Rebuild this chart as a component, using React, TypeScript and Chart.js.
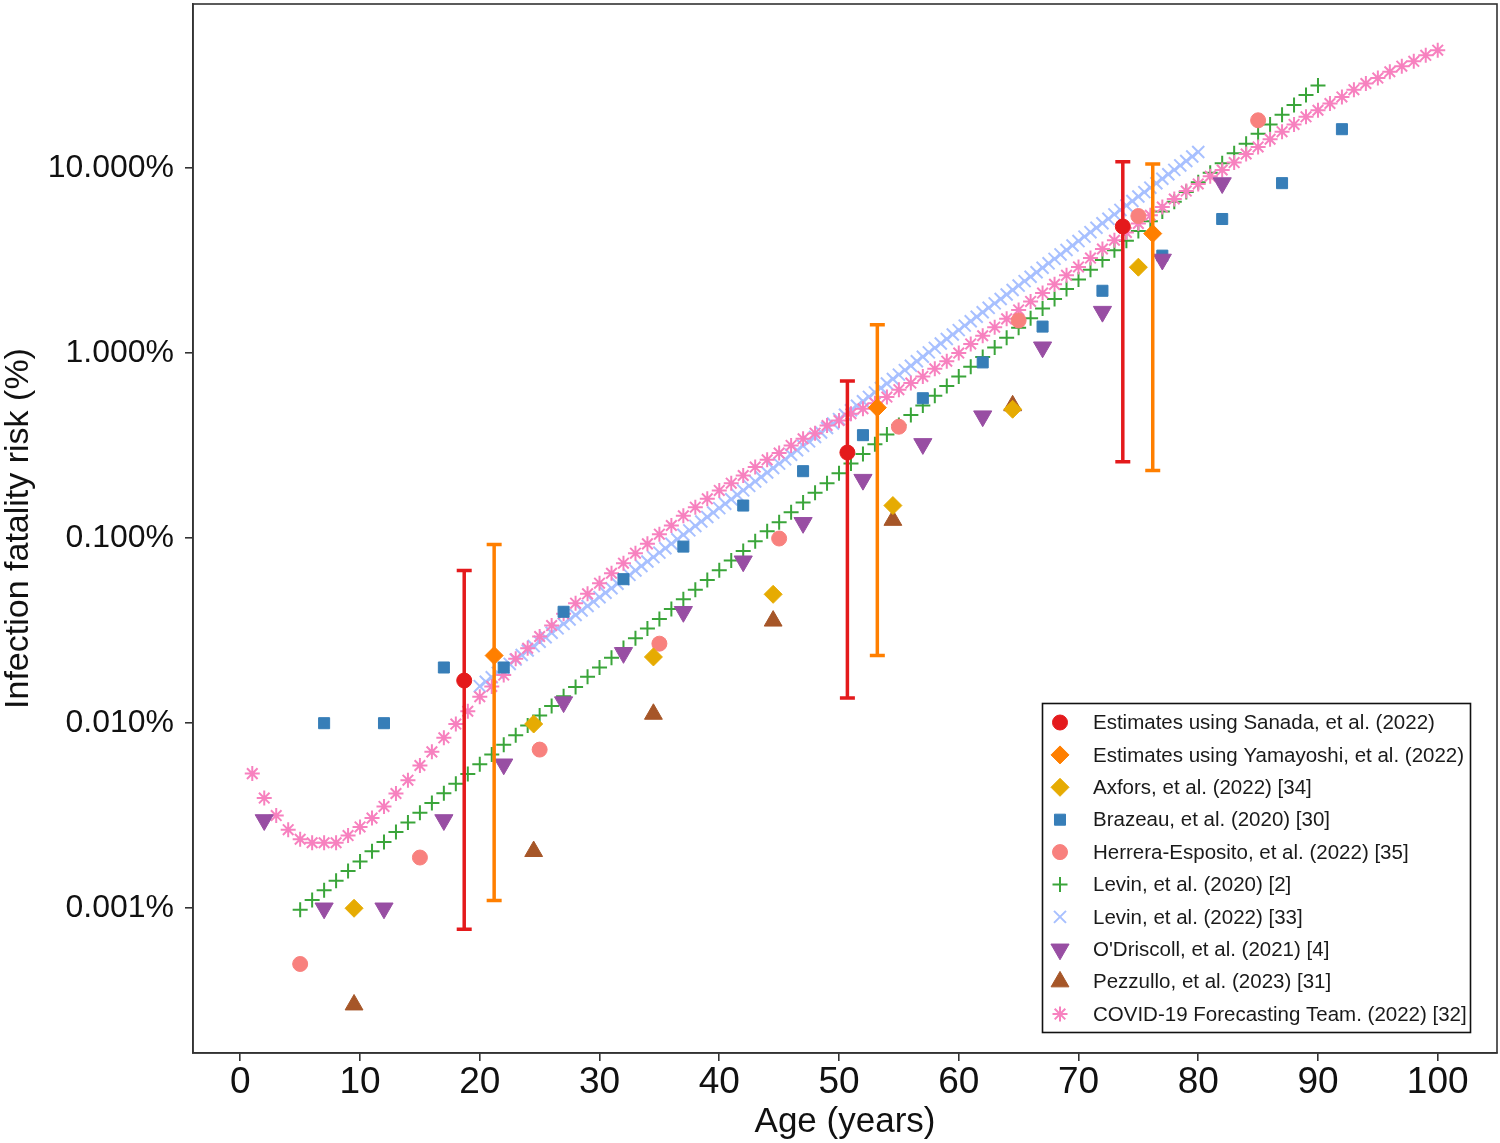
import React, { useEffect, useRef } from 'react';
import { Chart, registerables } from 'chart.js';
import { drawPoint } from 'chart.js/helpers';

Chart.register(...registerables);

// ---------------- data ----------------
const sanadaAges = [18.7, 50.7, 73.7];
const sanadaIFR = [0.017, 0.29, 4.83];
const sanadaLow = [0.00077, 0.0137, 0.259];
const sanadaHigh = [0.0668, 0.706, 10.8];

const yamayoshiAges = [21.2, 53.2, 76.2];
const yamayoshiIFR = [0.0232, 0.507, 4.42];
const yamayoshiLow = [0.0011, 0.0232, 0.232];
const yamayoshiHigh = [0.0925, 1.42, 10.5];

const axforsAges = [9.5, 24.5, 34.5, 44.5, 54.5, 64.5, 75];
const axforsIFR = [0.001, 0.0099, 0.0228, 0.0497, 0.15, 0.497, 2.91];

const brazeauAges = [7, 12, 17, 22, 27, 32, 37, 42, 47, 52, 57, 62, 67, 72, 77, 82, 87, 92];
const brazeauIFR = [0.01, 0.01, 0.02, 0.02, 0.04, 0.06, 0.09, 0.15, 0.23, 0.36, 0.57, 0.89, 1.39, 2.17, 3.36, 5.3, 8.28, 16.2];

const herreraAges = [5, 15, 25, 35, 45, 55, 65, 75, 85];
const herreraIFR = [0.0005, 0.00188, 0.0072, 0.0269, 0.0995, 0.4, 1.5, 5.5, 18.1];

const levin2020Ages = [5, 6, 7, 8, 9, 10, 11, 12, 13, 14, 15, 16, 17, 18, 19, 20, 21, 22, 23, 24, 25, 26, 27, 28, 29, 30, 31, 32, 33, 34, 35, 36, 37, 38, 39, 40, 41, 42, 43, 44, 45, 46, 47, 48, 49, 50, 51, 52, 53, 54, 55, 56, 57, 58, 59, 60, 61, 62, 63, 64, 65, 66, 67, 68, 69, 70, 71, 72, 73, 74, 75, 76, 77, 78, 79, 80, 81, 82, 83, 84, 85, 86, 87, 88, 89, 90];
const levin2020IFR = [0.000982, 0.00111, 0.00125, 0.00141, 0.00159, 0.00179, 0.00203, 0.00228, 0.00258, 0.00291, 0.00328, 0.0037, 0.00418, 0.00471, 0.00532, 0.006, 0.00677, 0.00764, 0.00862, 0.00972, 0.011, 0.0124, 0.014, 0.0157, 0.0178, 0.02, 0.0226, 0.0255, 0.0288, 0.0325, 0.0366, 0.0414, 0.0467, 0.0526, 0.0594, 0.067, 0.0756, 0.0853, 0.0962, 0.109, 0.122, 0.138, 0.156, 0.176, 0.198, 0.224, 0.253, 0.285, 0.322, 0.363, 0.409, 0.462, 0.521, 0.588, 0.663, 0.748, 0.844, 0.952, 1.07, 1.21, 1.37, 1.54, 1.74, 1.96, 2.22, 2.5, 2.82, 3.18, 3.59, 4.05, 4.57, 5.16, 5.82, 6.56, 7.41, 8.36, 9.43, 10.6, 12.0, 13.5, 15.3, 17.2, 19.4, 21.9, 24.8, 27.9];

const levin2022Ages = [20, 20.5, 21, 21.5, 22, 22.5, 23, 23.5, 24, 24.5, 25, 25.5, 26, 26.5, 27, 27.5, 28, 28.5, 29, 29.5, 30, 30.5, 31, 31.5, 32, 32.5, 33, 33.5, 34, 34.5, 35, 35.5, 36, 36.5, 37, 37.5, 38, 38.5, 39, 39.5, 40, 40.5, 41, 41.5, 42, 42.5, 43, 43.5, 44, 44.5, 45, 45.5, 46, 46.5, 47, 47.5, 48, 48.5, 49, 49.5, 50, 50.5, 51, 51.5, 52, 52.5, 53, 53.5, 54, 54.5, 55, 55.5, 56, 56.5, 57, 57.5, 58, 58.5, 59, 59.5, 60, 60.5, 61, 61.5, 62, 62.5, 63, 63.5, 64, 64.5, 65, 65.5, 66, 66.5, 67, 67.5, 68, 68.5, 69, 69.5, 70, 70.5, 71, 71.5, 72, 72.5, 73, 73.5, 74, 74.5, 75, 75.5, 76, 76.5, 77, 77.5, 78, 78.5, 79, 79.5, 80];
const levin2022IFR = [0.01585, 0.01675, 0.0177, 0.01871, 0.01978, 0.02091, 0.0221, 0.02336, 0.02469, 0.0261,
  0.02757, 0.02914, 0.0308, 0.03255, 0.03441, 0.03637, 0.03845, 0.04064, 0.04294, 0.04539,
  0.04797, 0.0507, 0.05359, 0.05664, 0.05987, 0.06328, 0.06688, 0.07069, 0.07471, 0.07897,
  0.08348, 0.08823, 0.09325, 0.09856, 0.1042, 0.1101, 0.1164, 0.123, 0.13, 0.1374,
  0.1452, 0.1535, 0.1622, 0.1714, 0.1812, 0.1915, 0.2025, 0.214, 0.2262, 0.2391,
  0.2527, 0.2671, 0.2822, 0.2983, 0.3153, 0.3333, 0.3522, 0.3723, 0.3935, 0.4159,
  0.4395, 0.4645, 0.4911, 0.5191, 0.5486, 0.5798, 0.6128, 0.6477, 0.6845, 0.7235,
  0.7648, 0.8084, 0.8545, 0.9032, 0.9544, 1.0088, 1.0661, 1.1268, 1.191, 1.2588,
  1.3305, 1.4063, 1.4864, 1.5711, 1.6604, 1.755, 1.8549, 1.9606, 2.0723, 2.1903,
  2.3148, 2.4466, 2.586, 2.7333, 2.8889, 3.0534, 3.2278, 3.4116, 3.6059, 3.8112,
  4.0272, 4.2565, 4.499, 4.7552, 5.0259, 5.3121, 5.6141, 5.9338, 6.272, 6.6292,
  7.0065, 7.4055, 7.827, 8.2727, 8.7436, 9.2415, 9.7678, 10.324, 10.911, 11.532,
  12.19];

const odriscollAges = [2, 7, 12, 17, 22, 27, 32, 37, 42, 47, 52, 57, 62, 67, 72, 77, 82];
const odriscollIFR = [0.003, 0.001, 0.001, 0.003, 0.006, 0.013, 0.024, 0.04, 0.075, 0.121, 0.207, 0.323, 0.456, 1.075, 1.674, 3.203, 8.292];

const pezzulloAges = [9.5, 24.5, 34.5, 44.5, 54.5, 64.5];
const pezzulloIFR = [0.000301, 0.00203, 0.0112, 0.0357, 0.125, 0.52];

const covidAges = [1, 2, 3, 4, 5, 6, 7, 8, 9, 10, 11, 12, 13, 14, 15, 16, 17, 18, 19, 20, 21, 22, 23, 24, 25, 26, 27, 28, 29, 30, 31, 32, 33, 34, 35, 36, 37, 38, 39, 40, 41, 42, 43, 44, 45, 46, 47, 48, 49, 50, 51, 52, 53, 54, 55, 56, 57, 58, 59, 60, 61, 62, 63, 64, 65, 66, 67, 68, 69, 70, 71, 72, 73, 74, 75, 76, 77, 78, 79, 80, 81, 82, 83, 84, 85, 86, 87, 88, 89, 90, 91, 92, 93, 94, 95, 96, 97, 98, 99, 100];
const covidIFR = [0.00534, 0.00394, 0.00317, 0.00266, 0.00236, 0.00226, 0.00226, 0.00226, 0.00247, 0.00275,
  0.00307, 0.00355, 0.00417, 0.00492, 0.00591, 0.007, 0.00834, 0.00989, 0.0116, 0.0139,
  0.0158, 0.0182, 0.0223, 0.0254, 0.0294, 0.0337, 0.039, 0.0445, 0.05, 0.0571,
  0.0646, 0.0732, 0.0829, 0.0931, 0.105, 0.117, 0.132, 0.147, 0.163, 0.181,
  0.198, 0.218, 0.242, 0.265, 0.288, 0.317, 0.344, 0.369, 0.406, 0.432,
  0.47, 0.5, 0.536, 0.578, 0.634, 0.688, 0.748, 0.822, 0.904, 1.0,
  1.12, 1.24, 1.38, 1.53, 1.71, 1.9, 2.11, 2.35, 2.63, 2.92,
  3.26, 3.65, 4.07, 4.48, 5.01, 5.55, 6.15, 6.8, 7.5, 8.2,
  9.02, 9.75, 10.7, 11.9, 13.0, 14.3, 15.7, 17.2, 18.9, 20.5,
  22.3, 24.2, 26.5, 28.6, 30.6, 33.1, 35.5, 37.7, 40.6, 43.3];

const xTickValues = [0, 10, 20, 30, 40, 50, 60, 70, 80, 90, 100];
const yTickValues = [0.001, 0.01, 0.1, 1, 10];
const yTickLabels = ['0.001%', '0.010%', '0.100%', '1.000%', '10.000%'];

const seriesNames = [
  'Estimates using Sanada, et al. (2022)',
  'Estimates using Yamayoshi, et al. (2022)',
  'Axfors, et al. (2022) [34]',
  'Brazeau, et al. (2020) [30]',
  'Herrera-Esposito, et al. (2022) [35]',
  'Levin, et al. (2020) [2]',
  'Levin, et al. (2022) [33]',
  "O'Driscoll, et al. (2021) [4]",
  'Pezzullo, et al. (2023) [31]',
  'COVID-19 Forecasting Team. (2022) [32]',
];

// ---------------- styles ----------------
const FONT = '"Liberation Sans", Arial, Helvetica, sans-serif';
const RED = '#E41A1C';
const ORANGE = '#FF7F00';
const GOLD = '#E6AB02';
const BLUE = '#377EB8';
const SALMON = '#F8817E';
const GREEN = '#3AA53A';
const LIGHTBLUE = '#A8C0FF';
const PURPLE = '#984EA3';
const BROWN = '#A65628';
const PINK = '#F781BF';

type Sty = { color: string; pointStyle: string; radius: number; rotation: number; borderWidth: number; order: number };
const styles: Sty[] = [
  { color: RED, pointStyle: 'circle', radius: 7.5, rotation: 0, borderWidth: 1, order: 0 },
  { color: ORANGE, pointStyle: 'rectRot', radius: 9, rotation: 0, borderWidth: 1, order: 1 },
  { color: GOLD, pointStyle: 'rectRot', radius: 9, rotation: 0, borderWidth: 1, order: 2 },
  { color: BLUE, pointStyle: 'rect', radius: 7.8, rotation: 0, borderWidth: 1, order: 5 },
  { color: SALMON, pointStyle: 'circle', radius: 7.5, rotation: 0, borderWidth: 1, order: 4 },
  { color: GREEN, pointStyle: 'cross', radius: 7.5, rotation: 0, borderWidth: 2, order: 8 },
  { color: LIGHTBLUE, pointStyle: 'crossRot', radius: 8.5, rotation: 0, borderWidth: 2, order: 9 },
  { color: PURPLE, pointStyle: 'triangle', radius: 10.5, rotation: 180, borderWidth: 1, order: 3 },
  { color: BROWN, pointStyle: 'triangle', radius: 10.3, rotation: 0, borderWidth: 1, order: 6 },
  { color: PINK, pointStyle: 'star', radius: 7.5, rotation: 0, borderWidth: 2, order: 7 },
];

const seriesX = [sanadaAges, yamayoshiAges, axforsAges, brazeauAges, herreraAges, levin2020Ages, levin2022Ages, odriscollAges, pezzulloAges, covidAges];
const seriesY = [sanadaIFR, yamayoshiIFR, axforsIFR, brazeauIFR, herreraIFR, levin2020IFR, levin2022IFR, odriscollIFR, pezzulloIFR, covidIFR];

const errorBarPlugin = {
  id: 'errorBars',
  beforeDatasetDraw(chart: any, args: any) {
    if (args.index !== 1) return;
    const { ctx } = chart;
    const xs = chart.scales.x;
    const ys = chart.scales.y;
    const groups = [
      { ages: sanadaAges, lo: sanadaLow, hi: sanadaHigh, color: RED },
      { ages: yamayoshiAges, lo: yamayoshiLow, hi: yamayoshiHigh, color: ORANGE },
    ];
    ctx.save();
    ctx.lineWidth = 3.5;
    ctx.lineCap = 'butt';
    for (const g of groups) {
      ctx.strokeStyle = g.color;
      g.ages.forEach((a, i) => {
        const px = xs.getPixelForValue(a);
        const p1 = ys.getPixelForValue(g.lo[i]);
        const p2 = ys.getPixelForValue(g.hi[i]);
        ctx.beginPath();
        ctx.moveTo(px, p1);
        ctx.lineTo(px, p2);
        ctx.moveTo(px - 7.5, p1);
        ctx.lineTo(px + 7.5, p1);
        ctx.moveTo(px - 7.5, p2);
        ctx.lineTo(px + 7.5, p2);
        ctx.stroke();
      });
    }
    ctx.restore();
  },
};

const framePlugin = {
  id: 'frame',
  afterDraw(chart: any) {
    const { ctx, chartArea } = chart;
    ctx.save();
    ctx.strokeStyle = '#333333';
    ctx.lineWidth = 1.6;
    ctx.strokeRect(chartArea.left, chartArea.top, chartArea.right - chartArea.left, chartArea.bottom - chartArea.top);
    ctx.restore();
  },
};

const legendPlugin = {
  id: 'customLegend',
  afterDraw(chart: any) {
    const { ctx } = chart;
    const boxX = 1042.5, boxY = 703.5, boxW = 428, boxH = 329;
    ctx.save();
    ctx.fillStyle = '#ffffff';
    ctx.fillRect(boxX, boxY, boxW, boxH);
    ctx.strokeStyle = '#111111';
    ctx.lineWidth = 1.6;
    ctx.strokeRect(boxX, boxY, boxW, boxH);
    ctx.font = `20.5px ${FONT}`;
    ctx.textBaseline = 'middle';
    ctx.textAlign = 'left';
    seriesNames.forEach((name, i) => {
      const y = 722.5 + i * 32.4;
      const s = styles[i];
      ctx.fillStyle = s.color;
      ctx.strokeStyle = s.color;
      ctx.lineWidth = s.borderWidth;
      drawPoint(ctx, { pointStyle: s.pointStyle as any, rotation: s.rotation, radius: s.radius, borderWidth: s.borderWidth }, 1060, y);
      ctx.fillStyle = '#1a1a1a';
      ctx.fillText(name, 1093, y + 1);
    });
    ctx.restore();
  },
};

const zeroPadding = (scale: any) => {
  scale.paddingTop = 0;
  scale.paddingBottom = 0;
  scale.paddingLeft = 0;
  scale.paddingRight = 0;
};

export default function App() {
  const ref = useRef<HTMLCanvasElement>(null);
  useEffect(() => {
    document.body.style.margin = '0';
    const datasets = seriesNames.map((name, i) => {
      const s = styles[i];
      return {
        label: name,
        data: seriesX[i].map((x, j) => ({ x, y: seriesY[i][j] })),
        pointStyle: s.pointStyle,
        pointRadius: s.radius,
        pointRotation: s.rotation,
        pointBackgroundColor: s.color,
        pointBorderColor: s.color,
        pointBorderWidth: s.borderWidth,
        backgroundColor: s.color,
        borderColor: s.color,
        showLine: false,
        order: s.order,
      };
    });
    const chart = new Chart(ref.current as HTMLCanvasElement, {
      type: 'scatter',
      data: { datasets: datasets as any },
      options: {
        animation: false,
        responsive: false,
        devicePixelRatio: 1,
        layout: { autoPadding: false, padding: { top: 4, right: 3, left: 0, bottom: 0 } },
        scales: {
          x: {
            type: 'linear',
            min: -3.95,
            max: 104.95,
            afterBuildTicks: (scale: any) => {
              scale.ticks = xTickValues.map((v) => ({ value: v }));
            },
            afterFit: (scale: any) => {
              scale.height = 90;
              zeroPadding(scale);
            },
            ticks: {
              color: '#111111',
              font: { family: FONT, size: 37 },
              padding: 0,
              maxRotation: 0,
              callback: (v: any) => String(v),
            },
            grid: { display: true, drawOnChartArea: false, drawTicks: true, tickLength: 8, color: '#333333', lineWidth: 1.6 },
            border: { display: true, color: '#333333', width: 1.6 },
            title: {
              display: true,
              text: 'Age (years)',
              color: '#111111',
              font: { family: FONT, size: 35, lineHeight: 1.2 },
              padding: { top: 0, bottom: 0 },
            },
          },
          y: {
            type: 'logarithmic',
            min: Math.pow(10, -3.782),
            max: Math.pow(10, 1.886),
            afterBuildTicks: (scale: any) => {
              scale.ticks = yTickValues.map((v) => ({ value: v }));
            },
            afterFit: (scale: any) => {
              scale.width = 193;
              zeroPadding(scale);
            },
            ticks: {
              color: '#111111',
              font: { family: FONT, size: 32 },
              padding: 11,
              callback: (v: any) => {
                const idx = yTickValues.findIndex((t) => Math.abs(Math.log10(t) - Math.log10(Number(v))) < 1e-6);
                return idx >= 0 ? yTickLabels[idx] : '';
              },
            },
            grid: { display: true, drawOnChartArea: false, drawTicks: true, tickLength: 8, color: '#333333', lineWidth: 1.6 },
            border: { display: true, color: '#333333', width: 1.6 },
            title: {
              display: true,
              text: 'Infection fatality risk (%)',
              color: '#111111',
              font: { family: FONT, size: 34, lineHeight: 1.1 },
              padding: { top: 0, bottom: 0 },
            },
          },
        },
        plugins: {
          legend: { display: false },
          tooltip: { enabled: false },
        },
      } as any,
      plugins: [errorBarPlugin, framePlugin, legendPlugin],
    });
    return () => chart.destroy();
  }, []);
  return (
    <div style={{ position: 'absolute', left: 0, top: 0, width: 1500, height: 1143, background: '#ffffff' }}>
      <canvas ref={ref} width={1500} height={1143} style={{ width: 1500, height: 1143, display: 'block' }} />
    </div>
  );
}
